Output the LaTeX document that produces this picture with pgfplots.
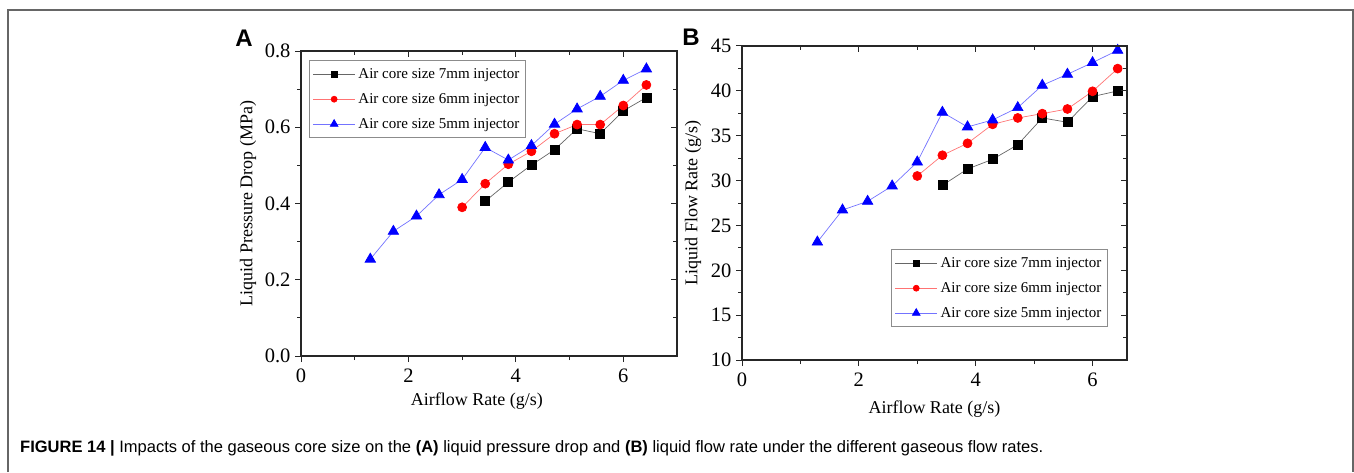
\documentclass[border=0pt]{standalone}
\usepackage{pgfplots}
\pgfplotsset{compat=1.18}
\usepackage{fontspec}
\setmainfont{Liberation Serif}
\newfontfamily\arialfont{Liberation Sans}
\usepackage{graphicx}

\pgfplotstableread{
x      p7     p6     p5
1.29   nan    nan    0.254
1.72   nan    nan    0.327
2.15   nan    nan    0.367
2.57   nan    nan    0.423
3.00   nan    0.390  0.463
3.43   0.406  0.452  0.547
3.86   0.456  0.503  0.514
4.29   0.501  0.537  0.552
4.72   0.541  0.583  0.608
5.14   0.596  0.607  0.648
5.57   0.583  0.607  0.681
6.00   0.643  0.657  0.723
6.43   0.678  0.711  0.753
}\tabA

\pgfplotstableread{
x      f7     f6     f5
1.29   nan    nan    23.15
1.72   nan    nan    26.72
2.15   nan    nan    27.69
2.57   nan    nan    29.40
3.00   nan    30.51  32.07
3.43   29.47  32.82  37.61
3.86   31.29  34.15  35.98
4.29   32.37  36.27  36.76
4.72   34.00  36.98  38.13
5.14   36.98  37.46  40.62
5.57   36.50  37.98  41.85
6.00   39.36  39.95  43.15
6.43   39.99  42.48  44.52
}\tabB

\pgfplotsset{
  common/.style={
    scale only axis,
    axis line style={black!85, line width=1.1pt},
    tick style={black!85, line width=1pt},
    major tick length=6pt, minor tick length=4pt,
    tick align=outside,
    xtick pos=lower, ytick pos=left,
    minor x tick num=1, minor y tick num=1,
    ticklabel style={font=\fontsize{20.5}{22}\selectfont},
    xticklabel style={yshift=-3pt},
    yticklabel style={xshift=-1pt},
    label style={font=\fontsize{18}{20}\selectfont},
    /pgf/number format/assume math mode=true,
    unbounded coords=jump,
    legend cell align=left,
    legend style={draw=black!45, line width=0.8pt, fill=white,
      font=\fontsize{15}{17}\selectfont,
      inner xsep=3.5pt, inner ysep=5pt, row sep=7.5pt,
      nodes={inner sep=3pt}},
    legend image code/.code={\draw[mark repeat=2,mark phase=2,#1] plot coordinates {(0pt,0pt) (21pt,0pt) (42pt,0pt)};},
  },
  mirror/.style={
    scale only axis,
    axis line style={black!85, line width=1.1pt},
    tick style={black!85, line width=1pt},
    major tick length=6pt, minor tick length=4pt,
    tick align=inside,
    xtick pos=upper, ytick pos=right,
    minor x tick num=1, minor y tick num=1,
    xticklabels={}, yticklabels={},
  },
  s7/.style={color=black!60, line width=0.7pt, mark=square*, mark size=4.5pt, mark options={fill=black, draw=black, solid}},
  s6/.style={color=red!55, line width=0.7pt, mark=*, mark size=4.5pt, mark options={fill=red, draw=red, solid}},
  s5/.style={color=blue!55, line width=0.7pt, mark=triangle*, mark size=6pt, mark options={fill=blue, draw=blue, solid}},
  l7/.style={color=black!60, line width=0.7pt, mark=square*, mark size=3pt, mark options={fill=black, draw=black, solid}},
  l6/.style={color=red!55, line width=0.7pt, mark=*, mark size=3pt, mark options={fill=red, draw=red, solid}},
  l5/.style={color=blue!55, line width=0.7pt, mark=triangle*, mark size=4.5pt, mark options={fill=blue, draw=blue, solid}},
}

\begin{document}
\begin{tikzpicture}[x=1pt,y=1pt]
\path[use as bounding box] (0,0) rectangle (1354,472);
\draw[black!60, line width=1.3pt] (8,0) -- (8,462) -- (1353,462) -- (1353,0);

% Panel A
\begin{axis}[common,
  at={(301pt,116pt)}, anchor=south west,
  width=376pt, height=305pt,
  xmin=0, xmax=7, ymin=0, ymax=0.8,
  xtick={0,2,4,6}, ytick={0,0.2,0.4,0.6,0.8},
  yticklabel style={/pgf/number format/.cd, fixed, fixed zerofill, precision=1},
  xlabel={Airflow Rate (g/s)},
  ylabel={Liquid Pressure Drop (MPa)},
  xlabel style={at={(axis description cs:0.468,0)}, anchor=base, yshift=-49pt},
  ylabel style={at={(axis description cs:0,0.5)}, anchor=center, yshift=53pt},
  legend style={at={(axis description cs:0.021,0.97)}, anchor=north west},
]
\addlegendimage{l7}\addlegendentry{Air core size 7mm injector}
\addlegendimage{l6}\addlegendentry{Air core size 6mm injector}
\addlegendimage{l5}\addlegendentry{Air core size 5mm injector}
\addplot[s7, forget plot] table[x=x, y=p7] {\tabA};
\addplot[s6, forget plot] table[x=x, y=p6] {\tabA};
\addplot[s5, forget plot] table[x=x, y=p5] {\tabA};
\end{axis}
\begin{axis}[mirror,
  at={(301pt,116pt)}, anchor=south west,
  width=376pt, height=305pt,
  xmin=0, xmax=7, ymin=0, ymax=0.8,
  xtick={0,2,4,6}, ytick={0,0.2,0.4,0.6,0.8},
]
\end{axis}
\node[font=\arialfont\bfseries\fontsize{24}{26}\selectfont] at (244,434) {A};

% Panel B
\begin{axis}[common,
  at={(742pt,112pt)}, anchor=south west,
  width=385pt, height=314pt,
  xmin=0, xmax=6.59, ymin=10, ymax=45,
  xtick={0,2,4,6}, ytick={10,15,20,25,30,35,40,45},
  xlabel={Airflow Rate (g/s)},
  ylabel={Liquid Flow Rate (g/s)},
  xlabel style={at={(axis description cs:0.5,0)}, anchor=base, yshift=-53pt},
  ylabel style={at={(axis description cs:0,0.5)}, anchor=center, yshift=49pt},
  legend style={at={(axis description cs:0.387,0.353)}, anchor=north west},
]
\addlegendimage{l7}\addlegendentry{Air core size 7mm injector}
\addlegendimage{l6}\addlegendentry{Air core size 6mm injector}
\addlegendimage{l5}\addlegendentry{Air core size 5mm injector}
\addplot[s7, forget plot] table[x=x, y=f7] {\tabB};
\addplot[s6, forget plot] table[x=x, y=f6] {\tabB};
\addplot[s5, forget plot] table[x=x, y=f5] {\tabB};
\end{axis}
\begin{axis}[mirror,
  at={(742pt,112pt)}, anchor=south west,
  width=385pt, height=314pt,
  xmin=0, xmax=6.59, ymin=10, ymax=45,
  xtick={0,2,4,6}, ytick={10,15,20,25,30,35,40,45},
]
\end{axis}
\node[font=\arialfont\bfseries\fontsize{24}{26}\selectfont] at (691,435) {B};

% Caption
\node[anchor=base west, inner sep=0pt] at (20,20) {\resizebox{1023pt}{!}{\arialfont\textbf{FIGURE 14 |} Impacts of the gaseous core size on the \textbf{(A)} liquid pressure drop and \textbf{(B)} liquid flow rate under the different gaseous flow rates.}};
\end{tikzpicture}
\end{document}
